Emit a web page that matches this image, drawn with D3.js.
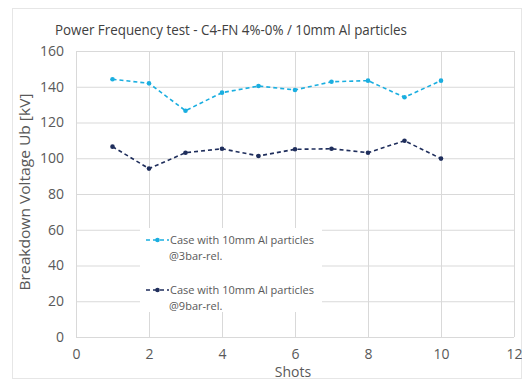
<!DOCTYPE html>
<html>
<head>
<meta charset="utf-8">
<script src="https://cdn.jsdelivr.net/npm/d3@7"></script>
<style>
  body { margin: 0; background: #fff; }
  text { font-family: "Open Sans", "Noto Sans", sans-serif; }
</style>
</head>
<body>
<div id="chart"></div>
<script>
// data
const shots = [1, 2, 3, 4, 5, 6, 7, 8, 9, 10];
const case3bar = [144.2, 141.9, 126.6, 136.7, 140.4, 138.2, 142.8, 143.4, 134.1, 143.4];
const case9bar = [106.5, 94.2, 103.1, 105.3, 101.3, 105.0, 105.3, 103.1, 109.8, 99.8];
const xTicks = [0, 2, 4, 6, 8, 10, 12];
const yTicks = [0, 20, 40, 60, 80, 100, 120, 140, 160];
const seriesNames = ["Case with 10mm Al particles|@3bar-rel.", "Case with 10mm Al particles|@9bar-rel."];
const seriesColors = ["#1aaee0", "#1f2e5c"];

const width = 522, height = 380;
const margin = { top: 51, right: 8, bottom: 43, left: 76 };
const innerW = width - margin.left - margin.right;
const innerH = height - margin.top - margin.bottom;

const svg = d3.select("#chart").append("svg")
  .attr("width", width)
  .attr("height", height);

// outer chart border
svg.append("rect")
  .attr("x", 12.5).attr("y", 8.5)
  .attr("width", width - 13).attr("height", height - 10)
  .attr("fill", "#fff")
  .attr("stroke", "#e6e6e6");

svg.append("text")
  .attr("x", 55).attr("y", 35)
  .attr("font-size", 14.5)
  .attr("fill", "#404040")
  .attr("textLength", 352)
  .attr("lengthAdjust", "spacingAndGlyphs")
  .text("Power Frequency test - C4-FN 4%-0% / 10mm Al particles");

const g = svg.append("g").attr("transform", `translate(${margin.left},${margin.top})`);

const x = d3.scaleLinear().domain([0, 12]).range([0, innerW]);
const y = d3.scaleLinear().domain([0, 160]).range([innerH, 0]);

// grid
g.append("g")
  .attr("transform", `translate(0,${innerH})`)
  .call(d3.axisBottom(x).tickValues(xTicks).tickSize(-innerH).tickFormat(""))
  .call(s => s.select(".domain").remove())
  .selectAll("line").attr("stroke", "#d9d9d9");

g.append("g")
  .call(d3.axisLeft(y).tickValues(yTicks).tickSize(-innerW).tickFormat(""))
  .call(s => s.select(".domain").remove())
  .selectAll("line").attr("stroke", "#d9d9d9");

// tick labels
const xAxis = g.append("g")
  .attr("transform", `translate(0,${innerH})`)
  .call(d3.axisBottom(x).tickValues(xTicks).tickSize(0).tickPadding(12));
xAxis.select(".domain").remove();
xAxis.selectAll("text").attr("font-size", 14).attr("fill", "#595959")
  .attr("font-family", "Open Sans, Noto Sans, sans-serif");

const yAxis = g.append("g")
  .call(d3.axisLeft(y).tickValues(yTicks).tickSize(0).tickPadding(12));
yAxis.select(".domain").remove();
yAxis.selectAll("text").attr("font-size", 14).attr("fill", "#595959")
  .attr("font-family", "Open Sans, Noto Sans, sans-serif");

// axis titles
svg.append("text")
  .attr("x", margin.left + innerW / 2 - 2).attr("y", 377)
  .attr("text-anchor", "middle")
  .attr("font-size", 14).attr("fill", "#595959")
  .text("Shots");

svg.append("text")
  .attr("transform", `translate(30,${margin.top + innerH / 2 - 2}) rotate(-90)`)
  .attr("text-anchor", "middle")
  .attr("font-size", 14).attr("fill", "#595959")
  .attr("textLength", 197)
  .attr("lengthAdjust", "spacingAndGlyphs")
  .text("Breakdown Voltage Ub [kV]");

// lines
const line = d3.line()
  .x((d, i) => x(shots[i]))
  .y(d => y(d));

[case3bar, case9bar].forEach((vals, k) => {
  g.append("path")
    .attr("d", line(vals))
    .attr("fill", "none")
    .attr("stroke", seriesColors[k])
    .attr("stroke-width", 1.6)
    .attr("stroke-dasharray", "4,3");
  g.selectAll(null)
    .data(vals)
    .enter().append("circle")
    .attr("cx", (d, i) => x(shots[i]))
    .attr("cy", d => y(d))
    .attr("r", 2.3)
    .attr("fill", seriesColors[k]);
});

// legend
const legend = svg.append("g");
legend.append("rect")
  .attr("x", 140).attr("y", 228)
  .attr("width", 182).attr("height", 84)
  .attr("fill", "#fff");

seriesNames.forEach((name, k) => {
  const ly = 240 + k * 50;
  legend.append("line")
    .attr("x1", 146).attr("x2", 169)
    .attr("y1", ly).attr("y2", ly)
    .attr("stroke", seriesColors[k])
    .attr("stroke-width", 1.6)
    .attr("stroke-dasharray", "4,3");
  legend.append("circle")
    .attr("cx", 157.5).attr("cy", ly).attr("r", 2.3)
    .attr("fill", seriesColors[k]);
  const parts = name.split("|");
  const t = legend.append("text")
    .attr("x", 170).attr("y", ly + 4)
    .attr("font-size", 11).attr("fill", "#595959");
  parts.forEach((p, j) => {
    t.append("tspan").attr("x", j === 0 ? 170 : 169).attr("dy", j === 0 ? 0 : 16).text(p);
  });
});
</script>
</body>
</html>
